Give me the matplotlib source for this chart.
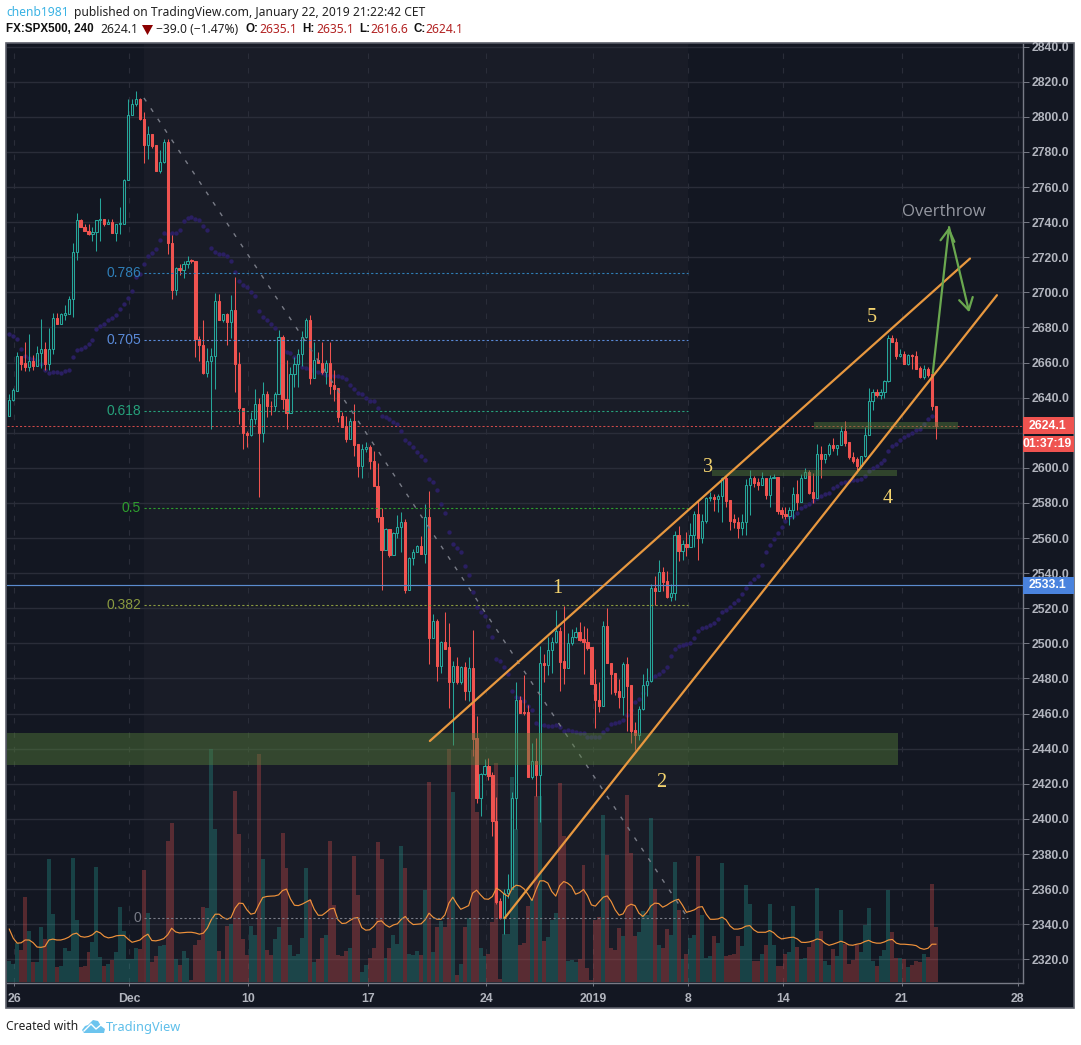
import matplotlib
matplotlib.use("Agg")
import matplotlib.pyplot as plt
from matplotlib.patches import Rectangle, Polygon
from matplotlib.transforms import blended_transform_factory

W, H = 1081, 1045

opens = [
2629.7,2638.5,2644,2664,2659.5,2657.5,2661,2658,2665.5,2668,
2659,2668,2685.5,2682,2687,2687.5,2696,2723,2741.5,2737,
2735,2733.3,2734.5,2741.5,2742,2739,2740,2734,2739,2739,
2764,2801,2807.5,2810,2799,2784,2790,2784,2769,2774.5,
2785.5,2728,2701.5,2714,2712.5,2716,2718.3,2718,2673.5,2670,
2654,2661,2663.5,2695,2684.5,2687.5,2683,2690,2659,2634,
2620,2618.5,2628,2636.5,2620,2642,2635.2,2635,2642,2674.5,
2639,2631.5,2653.5,2659,2665,2674.5,2684.5,2651,2661.5,2660,
2654.5,2660,2647,2645.5,2629.5,2624,2616.5,2626.5,2613.5,2601,
2611,2612,2604,2589.5,2572,2553,2565,2550.5,2563,2566.5,
2569,2530.5,2548.5,2552,2555.5,2551,2572,2503,2513,2487,
2501,2498,2478,2487,2478,2486.5,2473,2486,2446,2412,
2425.5,2430,2425,2399,2353,2343.5,2357.5,2360,2412,2468,
2461,2461,2424,2433,2425,2489,2487.5,2496,2501,2507,
2490,2486,2500.5,2503.5,2506.5,2502.5,2501,2498,2477,2468,
2464.5,2510,2489,2483,2473,2469.5,2488,2476.5,2450.5,2448,
2462.5,2476.5,2478.5,2531.5,2530,2540.5,2535.5,2526.5,2528.5,2562,
2552.5,2556.5,2555,2561.5,2574,2560,2570,2583,2583.5,2582.5,
2584,2594.5,2581.5,2571,2569,2566,2569,2590,2594.5,2592,
2590,2594.5,2584.5,2594,2595,2576,2574,2572.5,2576,2585,
2580.5,2594,2597.5,2586,2583,2608,2605,2608,2613,2611.5,
2613,2621,2615,2606,2605,2601,2606.5,2619,2638,2643.5,
2641.5,2643.5,2649.5,2674,2671.5,2664,2665,2659,2664.5,2664,
2657,2652,2656.5,2653.5,2635.1]
closes = [
2638.8,2644.5,2664,2659,2657.5,2661,2658,2665.5,2668,2659,
2668,2685.5,2682,2687.5,2688,2696,2723,2741.5,2737,2735,
2733,2734.5,2741.5,2742,2739,2740,2734,2739,2739.5,2764,
2801,2807.5,2810,2799,2784,2790,2783.5,2769,2774.5,2785.5,
2728,2701.5,2714,2712.5,2716,2718,2718,2673.5,2670,2654,
2661,2663.5,2695,2684.5,2687.5,2683,2690,2659,2634,2620,
2618.5,2628,2636.5,2620,2642,2635,2635,2642,2674.5,2639,
2631.5,2653.5,2659,2665,2674.5,2684.5,2651,2661.5,2659.5,2654.5,
2660,2646.5,2645,2629,2623.5,2616.5,2626.5,2613,2601,2611,
2612,2604,2589.5,2572,2553,2565,2550.5,2563,2566.5,2569,
2530.5,2548.5,2552,2555.5,2551,2572,2503,2513,2487,2501,
2497,2478,2487,2478,2486.5,2473,2486,2445.5,2412,2425.5,
2430,2424.5,2399,2352.5,2343.5,2357.5,2360,2412,2468,2460.5,
2460.5,2424,2433,2425,2489,2487.5,2496,2501,2507,2489.5,
2486,2500.5,2503.5,2506.5,2502,2501,2497.5,2477,2467.5,2464.5,
2510,2489,2482.5,2472.5,2469.5,2488,2476,2450,2448,2462.5,
2476.5,2478.5,2531.5,2530,2540.5,2535,2526.5,2528.5,2562,2552.5,
2556.5,2555,2561.5,2574,2560,2570,2583,2583.5,2582.5,2584,
2594.5,2581,2570,2569,2566,2569,2590,2594,2591.5,2590,
2594.5,2584.5,2594,2595,2575.5,2574,2572.5,2576,2585,2580.5,
2594,2597.5,2585.5,2583,2608,2605,2608,2613,2611.5,2613,
2621,2614,2606,2604,2601,2606.5,2619,2638,2643.5,2641.5,
2643.5,2649.5,2674,2671.5,2664,2665,2659,2664.5,2663.5,2656.5,
2652,2656.5,2653,2635,2624.1]
highs = [
2642.3,2645.6,2666,2664,2672,2676.5,2664.5,2669.5,2685,2672,
2680,2688,2688.5,2688.5,2693,2698,2728,2745.5,2742,2739,
2739,2737.5,2741.5,2754,2742,2742,2742,2739,2748.5,2764.5,
2810,2810,2814.5,2810.5,2803,2795,2790.5,2784,2781,2787.5,
2787.5,2732.5,2714.5,2716,2718,2721,2719,2718,2675,2684,
2668.5,2668.5,2699.5,2699,2687.5,2688.5,2698.5,2709,2666,2634,
2621,2632,2645,2640,2649,2644,2638,2643,2678.5,2676,
2661.5,2657.5,2663,2667.5,2678,2685.5,2687,2672,2666,2671.5,
2661.5,2671.5,2656,2645.5,2632,2629.5,2628.5,2636.5,2613.5,2613.5,
2615,2613,2609.5,2603,2577,2566,2565,2563.5,2573,2575,
2571,2549.5,2554,2556,2561,2579.5,2587,2517,2514,2501.5,
2518,2511.5,2490,2492,2487,2489.5,2492.5,2507.5,2458.5,2426,
2434,2434.5,2426.5,2412.5,2355,2360,2368.5,2415.5,2478,2470,
2482,2465,2443,2446,2498.5,2494,2503.5,2503.5,2519,2509.5,
2521.5,2506,2508,2509.5,2512,2510,2508.5,2498,2485.5,2478,
2513,2520,2489,2483,2480,2489.5,2492.5,2476.5,2455,2464.5,
2482.5,2486,2534,2538.5,2547.5,2543.5,2541,2534,2564,2567,
2559,2563.5,2568.5,2575.5,2581,2574,2583.5,2586.5,2585,2585,
2595,2596,2581.5,2574,2572,2574,2593.5,2599,2595.5,2594,
2597.5,2594.5,2596,2596.5,2595,2577.5,2578,2577.5,2589,2593,
2596.5,2600,2599,2597,2613.5,2612.5,2608,2614,2617,2613,
2624,2627,2615,2609,2606,2607,2623.5,2645.5,2645,2645,
2645,2650,2676,2676,2674,2668,2666.5,2665,2665,2666.5,
2658,2658.5,2657.5,2653.5,2635.1]
lows = [
2629.7,2638,2644,2655.6,2655,2655,2656,2658,2657,2656,
2656,2665,2682,2682,2684,2687.5,2686,2718.5,2737,2735,
2732.5,2729.5,2723.5,2729.5,2738,2739,2734,2729.5,2733,2739,
2764,2801,2806,2798.5,2774,2776,2782.5,2769,2768,2774,
2722,2696,2698.5,2710,2708,2714,2717,2663,2661,2653.5,
2652,2622,2645,2684.5,2683,2670,2674,2643,2625,2611,
2612,2618,2625,2583.5,2614.5,2629,2630,2632.5,2642,2633.5,
2622,2631.5,2646,2646,2658,2674,2648,2651,2659.5,2653.5,
2648,2642,2638,2626,2623.5,2614.5,2616.5,2607,2595,2594.5,
2609,2599.5,2589.5,2569,2530.5,2553,2549,2550.5,2560,2552,
2529,2530.5,2544.5,2552,2551,2546,2488.5,2503,2478.5,2483,
2497,2463,2442,2477,2477,2468,2467,2436,2409,2401.5,
2425,2422,2390.5,2351.5,2343,2334.5,2355,2360,2394,2460.5,
2459,2424,2423,2413,2398,2478,2482,2483,2500.5,2473,
2477,2486,2499,2503,2501.5,2482.5,2496.5,2477,2452,2461,
2464.5,2489,2471,2470.5,2463,2459,2450,2443,2439,2445,
2462,2470,2478,2522,2530,2530,2526,2524,2525,2547,
2547.5,2550,2555,2555,2547.5,2557,2568.5,2581,2575.5,2575,
2569,2578,2564.5,2566,2560,2562,2561.5,2573,2589,2587.5,
2590,2582,2577.5,2594,2574,2571.5,2571,2567.5,2571,2576,
2580.5,2594,2585,2580,2583,2594.5,2603,2607,2609.5,2607.5,
2613,2612.7,2605,2603,2597,2600,2606,2619,2633,2640.5,
2639.5,2640,2649,2671.5,2662,2663,2659,2658.5,2656.5,2656.5,
2651,2650.5,2652,2633,2616.6]
volumes = [
63,55,116,96,255,153,61,61,165,129,
369,204,45,48,103,94,372,186,45,48,
90,120,345,75,48,54,67,90,225,153,
69,69,102,99,336,207,60,78,108,111,
423,477,69,51,93,72,6,111,126,225,
222,699,459,93,69,168,174,573,444,129,
81,168,141,684,369,96,81,129,165,447,
342,111,78,84,132,342,246,60,69,132,
141,423,231,81,78,93,102,378,261,30,
51,72,102,420,369,72,102,141,114,408,
342,84,81,93,81,276,600,90,165,183,
165,699,570,21,54,165,192,696,511,103,
78,84,180,656,9,144,144,615,459,111,
117,228,250,558,558,123,136,186,207,596,
438,63,66,60,69,351,42,6,186,195,
501,381,102,96,162,138,561,387,138,150,
213,201,492,279,111,101,159,141,360,216,
68,84,131,141,378,201,72,78,138,117,
357,78,81,84,138,108,291,234,63,63,
84,111,234,111,48,48,84,90,228,105,
69,72,105,123,282,153,63,51,99,78,
216,114,54,66,111,90,171,222,63,48,
78,96,276,150,72,72,69,45,51,63,
60,84,75,294,165]
osc = [
2337.2,2332,2329.2,2329.4,2331,2331,2329.5,2327,2326.8,2327.3,
2331,2331.5,2331,2331,2331.6,2332.6,2334.3,2334.9,2333,2332.6,
2333,2334,2336,2335,2333,2332.2,2332.6,2333.4,2333.6,2333.6,
2331.5,2329.7,2330.3,2331,2333,2334.3,2330.7,2330.5,2331,2331.8,
2334,2337.7,2335.6,2335,2335.2,2335.4,2335.4,2335,2334.3,2334.9,
2337.7,2342.5,2345.7,2345.7,2343.8,2342.8,2343.8,2349.1,2352,2351.8,
2348.2,2345.7,2346.3,2351,2355.2,2355.8,2356,2356.1,2356.7,2359.2,
2360,2354.4,2350.8,2350.6,2351.5,2352.7,2353.9,2348.5,2345.1,2345.1,
2346.8,2348.7,2349.1,2342.5,2340.4,2340.6,2342.1,2343.4,2343.8,2338.1,
2336.6,2336.8,2338.7,2341.5,2341.9,2339.6,2338.3,2339.6,2340.2,2342.8,
2344.4,2341.5,2339.8,2340,2340.2,2342.5,2346.3,2344,2342.8,2342.8,
2345.3,2352,2355.4,2351.6,2348.5,2349.5,2350.6,2357.7,2359.4,2356.7,
2354.4,2354.2,2355.8,2360.5,2359.2,2357.1,2355.8,2360.5,2362.2,2361.8,
2360.1,2357,2353.5,2359.6,2364.7,2364.7,2363.4,2358.6,2356,2362,
2364.3,2363.4,2361.5,2357.1,2358,2359.8,2356.3,2351,2350.3,2352.9,
2355.4,2356.1,2352.9,2348.2,2345.1,2345.9,2350.1,2351.4,2350.6,2346.3,
2344.4,2346.8,2350.4,2352,2351.8,2349.7,2350.8,2352.3,2353.5,2354.2,
2350.8,2346.8,2347.4,2348.2,2349.7,2350,2345.7,2342.8,2342.8,2343,
2344,2342.5,2339,2337.2,2337.2,2337.7,2338.9,2339.2,2336.8,2335.4,
2335.4,2335.4,2336.4,2335.2,2333,2331.6,2332,2332.4,2332.6,2331.6,
2329.7,2329.6,2329.9,2330.6,2331.6,2331.1,2329.1,2328,2328.6,2329.4,
2330.3,2329.5,2328.2,2328,2328.6,2329,2330.1,2330.8,2329.7,2329.2,
2329.2,2329.9,2331,2331.3,2329.2,2328.6,2328.6,2328.4,2328.2,2327.8,
2326.3,2325.7,2326.3,2328.6,2328.6]
dots = [
2676.5,2675.2,2673.7,2668,2664,2662.7,2662,2661.3,2659.4,2656,
2654.3,2654.9,2654.9,2654.3,2655,2656,2663.4,2666.9,2668,2669.1,
2670.8,2673.1,2679.4,2681.1,2682.2,2684,2685.5,2687.4,2690.8,2693.6,
2697,2700.7,2708.6,2710.2,2716.4,2720.8,2722.7,2725,2729.9,2734.1,
2733.3,2733.7,2734.1,2735.8,2740.4,2742.6,2743,2741.9,2741.5,2738.1,
2735.8,2725.5,2723,2721.9,2721.6,2720.8,2718.1,2711.9,2706.6,2704.5,
2703.1,2700.5,2698.2,2689.4,2685.8,2684.3,2681.8,2679.5,2671.9,2667,
2666.2,2665.3,2663.4,2660.9,2657.7,2656.7,2656.4,2655.4,2654.5,2653.9,
2653.1,2652.7,2652.6,2652.6,2652,2650.5,2647,2644.8,2642.9,2641.9,
2639.8,2637.9,2637.9,2634,2629.4,2628.8,2627.7,2626.3,2625,2620.8,
2615.7,2614,2611.7,2608.9,2606.6,2604.3,2593.5,2591.8,2587.2,2579.4,
2574.1,2563.3,2556.5,2554.2,2551.9,2544,2538.8,2529.1,2520.5,2517.7,
2515.4,2509.7,2503.5,2491,2489.8,2486.4,2482.4,2472.7,2469.7,2468.7,
2467,2464.2,2461.9,2454.5,2453.3,2453.3,2452.8,2452.8,2453.3,2452.2,
2449.9,2450.5,2449.9,2449.3,2448.8,2448.8,2446.5,2446.5,2446.5,2446.5,
2449.3,2451,2453.9,2454.5,2455,2456.2,2459,2461.9,2466.4,2468.1,
2471.6,2477.3,2480.1,2481.3,2482.4,2484.1,2486.4,2492.6,2496.6,2498.5,
2498.9,2499.5,2500,2502.9,2506.9,2509,2509.5,2510.7,2511.6,2513.7,
2518,2519,2520.7,2522.8,2525,2528,2531.4,2534.2,2536.5,2538.2,
2544.5,2551.9,2555.9,2559.3,2562.7,2566.1,2569.6,2572.2,2572.4,2574.1,
2577,2578.1,2579.4,2581.1,2582.7,2584,2584.9,2585.5,2588.4,2589.5,
2591.2,2591.8,2592.3,2592.9,2592.9,2593.5,2595.2,2598,2599.8,2600.9,
2602.6,2604.3,2609.4,2612.3,2613.4,2615.7,2617.4,2618.6,2619.7,2621.4,
2622,2624.8,2627.7,2629.4]

price_ticks = list(range(2320, 2841, 20))
hidden_tick = 2620  # covered by the price badges in the reference
time_pos = [1.2, 30.35, 60.3, 90.5, 120.5, 147.5, 171.5, 195.5, 225.4, 254.6]
time_labels = ["26", "Dec", "10", "17", "24", "2019", "8", "14", "21", "28"]

fib_start, fib_end = 34.0, 171.4
fib_levels = [0.786, 0.705, 0.618, 0.5, 0.382, 0]
fib_prices = [2710.9, 2672.7, 2632.2, 2577.0, 2521.7, 2343.4]
fib_colors = ["#2f7fb8", "#5a8ad8", "#26a07a", "#2e9e2e", "#8a9a40", "#787b86"]
fib_names = ["0.786", "0.705", "0.618", "0.5", "0.382", "0"]
trend_x, trend_y = [34.0, 171.4], [2810.8, 2343.4]

channel_up_x, channel_up_y = [106.2, 242.6], [2444.4, 2719.3]
channel_lo_x, channel_lo_y = [125.05, 249.4], [2343.4, 2698.4]
arrow_x, arrow_y = [233.2, 237.3, 242.4], [2654.0, 2737.2, 2688.7]

last_price, marked_price = 2624.1, 2533.1
wave_x = [138.5, 164.5, 176.5, 221.8, 217.9]
wave_y = [2531.5, 2421.0, 2600.0, 2582.8, 2685.5]
wave_t = ["1", "2", "3", "4", "5"]

BG = "#131722"
BG2 = "#191c27"
GRID = "#2a2d39"
UP = "#26a69a"
DOWN = "#ef5350"

fig = plt.figure(figsize=(W / 100, H / 100), dpi=100, facecolor="white")
back = fig.add_axes([0, 0, 1, 1], zorder=0)
back.set_xlim(0, W); back.set_ylim(H, 0); back.axis("off")
back.add_patch(Rectangle((6, 43), 1068, 965, fc=BG, ec="#5d606b", lw=1.2))

X0, X1, Y0, Y1 = 7, 1023, 44, 983
ax = fig.add_axes([X0 / W, 1 - Y1 / H, (X1 - X0) / W, (Y1 - Y0) / H], zorder=1)
ax.patch.set_alpha(0)
px_per_bar = 3.96
ax.set_xlim((X0 - 9.3) / px_per_bar, (X1 - 9.3) / px_per_bar)
ax.set_ylim(2320 + (959.3 - Y1) / 1.755, 2320 + (959.3 - Y0) / 1.755)
for s in ("top", "left"):
    ax.spines[s].set_visible(False)
for s in ("right", "bottom"):
    ax.spines[s].set_color("#787b86"); ax.spines[s].set_linewidth(1.0)

ax.axvspan(fib_start, fib_end, color=BG2, lw=0, zorder=0)
ax.yaxis.tick_right()
ax.set_yticks(price_ticks)
ax.set_yticklabels(["" if v == hidden_tick else f"{v}.0" for v in price_ticks], fontsize=8.8,
                   color="#b2b5be", fontweight="bold", family="Liberation Sans")
ax.tick_params(axis="y", length=4.3, width=0.7, color="#787b86", pad=2)
ax.set_xticks(time_pos)
ax.set_xticklabels(time_labels, fontsize=8.8, color="#b2b5be", fontweight="bold",
                   family="Liberation Sans")
ax.tick_params(axis="x", length=2.5, width=0.7, color="#787b86", pad=5)
ax.grid(axis="y", color=GRID, lw=1.0, zorder=0.5)
ax.grid(axis="x", color=GRID, lw=0.8, ls=(0, (5, 8)), zorder=0.5)
ax.set_axisbelow(True)

# volume pane shares the same box, with its own scale
vol = ax.inset_axes([0, 0, 1, 1], zorder=1)
vol.patch.set_alpha(0)
vol.set_xlim(ax.get_xlim()); vol.set_ylim(-3, 2814); vol.axis("off")
xs = list(range(len(opens)))
vol.bar(xs, volumes, width=1.0, lw=0, antialiased=False,
        color=[UP if c >= o else DOWN for o, c in zip(opens, closes)], alpha=0.3)

# candles, dots etc. on a top price pane
top = ax.inset_axes([0, 0, 1, 1], zorder=2)
top.patch.set_alpha(0)
top.set_xlim(ax.get_xlim()); top.set_ylim(ax.get_ylim()); top.axis("off")
top.scatter(range(len(dots)), dots, s=10, color="#2a1f62", lw=0, zorder=2)
up = [i for i in xs if closes[i] >= opens[i]]
dn = [i for i in xs if closes[i] < opens[i]]
top.vlines(up, [lows[i] for i in up], [highs[i] for i in up], color=UP, lw=0.75, zorder=3)
top.vlines(dn, [lows[i] for i in dn], [highs[i] for i in dn], color=DOWN, lw=0.75, zorder=3)
top.bar(up, [closes[i] - opens[i] for i in up], bottom=[opens[i] for i in up], width=0.56,
        facecolor=BG2, edgecolor=UP, lw=0.75, zorder=4)
top.bar(dn, [closes[i] - opens[i] for i in dn], bottom=[opens[i] for i in dn], width=0.56,
        facecolor=DOWN, edgecolor=DOWN, lw=0.75, zorder=4)

top.plot(xs, osc, color="#f0923b", lw=0.85, zorder=5)
top.plot(trend_x, trend_y, color="#787b86", lw=1.0, ls=(0, (3, 6)), zorder=5)
for name, p, col in zip(fib_names, fib_prices, fib_colors):
    top.plot([fib_start, fib_end], [p, p], color=col, lw=0.8, ls=(0, (2, 2)), zorder=5)
    top.text(fib_start - 0.7, p, name, color=col, ha="right", va="center", fontsize=10,
             family="Liberation Sans", zorder=6)

top.axhline(last_price, color=DOWN, lw=0.75, ls=(0, (2, 2)), alpha=0.85, zorder=5)
top.axhline(marked_price, color="#5b8ccf", lw=0.85, zorder=5)

top.add_patch(Rectangle((-0.6, 2430.7), 225.0, 18.1, fc="#557d3a", alpha=0.45, lw=0, zorder=6))
top.add_patch(Rectangle((177.5, 2595.5), 46.7, 3.5, fc="#557d3a", alpha=0.45, lw=0, zorder=6))
top.add_patch(Rectangle((203.2, 2622.0), 36.3, 4.0, fc="#557d3a", alpha=0.45, lw=0, zorder=6))

top.plot(channel_up_x, channel_up_y, color="#e8983f", lw=1.6, zorder=7, solid_capstyle="round")
top.plot(channel_lo_x, channel_lo_y, color="#e8983f", lw=1.6, zorder=7, solid_capstyle="round")
head = "->,head_length=0.85,head_width=0.5"
top.annotate("", xy=(arrow_x[1], arrow_y[1]), xytext=(arrow_x[0], arrow_y[0]), zorder=8,
             arrowprops=dict(arrowstyle=head, color="#6aa84f", lw=1.6, shrinkA=0, shrinkB=0))
top.annotate("", xy=(arrow_x[2], arrow_y[2]), xytext=(arrow_x[1], arrow_y[1]), zorder=8,
             arrowprops=dict(arrowstyle=head, color="#6aa84f", lw=1.6, shrinkA=0, shrinkB=0))
for x, y, t in zip(wave_x, wave_y, wave_t):
    top.text(x, y, t, color="#f3d36e", fontsize=14.5, family="Liberation Serif",
             ha="center", va="center", zorder=9)
top.text(236.0, 2746.0, "Overthrow", color="#9598a1", fontsize=12.1, family="Open Sans",
         ha="center", va="center", zorder=9)

# right-hand price badges
tr = blended_transform_factory(ax.transAxes, ax.transData)
bw = (1074 - X1) / (X1 - X0)
unit = 1 / 1.755
for price, dy0, dy1, col, label in [
        (last_price, -8.5, 8.5, DOWN, "2624.1"),
        (last_price, 10.0, 26.5, DOWN, "01:37:19"),
        (marked_price, -8.5, 8.5, "#4a83de", "2533.1")]:
    ax.add_patch(Rectangle((1.0, price - dy1 * unit), bw, (dy1 - dy0) * unit, transform=tr, fc=col,
                           lw=0, clip_on=False, zorder=10))
    ax.text(1.0 + bw * 0.5 - 0.001, price - (dy0 + dy1) / 2 * unit, label, transform=tr, color="white",
            fontsize=8.8, fontweight="bold", family="Liberation Sans", ha="center", va="center", zorder=11)

# header and footer
front = fig.add_axes([0, 0, 1, 1], zorder=5)
front.set_xlim(0, W); front.set_ylim(H, 0); front.axis("off"); front.patch.set_alpha(0)
HF = "Noto Sans"
BF = "Liberation Sans"
front.text(6, 12.5, "chenb1981", color="#3bb3e4", fontsize=8.7, family=HF, va="center")
front.text(74, 12.5, "published on TradingView.com, January 22, 2019 21:22:42 CET", color="#222222",
           fontsize=8.7, family=HF, va="center")
y2 = 29.5
for x, t, col, fam, w in [(6, "FX:SPX500, 240", "#111111", BF, "bold"), (100, "2624.1", "#222222", HF, "normal"),
                     (156, "\u221239.0 (\u22121.47%)", "#222222", HF, "normal"), (245, "O:", "#111111", BF, "bold"),
                     (259, "2635.1", "#b22222", HF, "normal"), (302, "H:", "#111111", BF, "bold"),
                     (316, "2635.1", "#b22222", HF, "normal"), (359, "L:", "#111111", BF, "bold"),
                     (370, "2616.6", "#b22222", HF, "normal"), (413, "C:", "#111111", BF, "bold"),
                     (425, "2624.1", "#b22222", HF, "normal")]:
    front.text(x, y2, t, color=col, fontsize=8.7 if fam == HF else 8.4, family=fam, va="center", fontweight=w)
front.add_patch(Polygon([(142, 25), (153, 25), (147.5, 35)], fc="#8b0000", lw=0))
front.text(6, 1027, "Created with", color="#222222", fontsize=8.7, family=HF, va="center")
front.add_patch(Polygon([(82, 1030), (85, 1026), (88, 1025), (93, 1020), (98, 1021), (101, 1026), (105, 1029),
                         (104, 1033), (84, 1033)], fc="#6cc4ee", lw=0))
front.plot([84, 91, 96, 102], [1031, 1024, 1029, 1024], color="white", lw=1.0)
front.text(106, 1027, "TradingView", color="#5ebfea", fontsize=9.2, family=HF, va="center")

fig.savefig("out.png", dpi=100, facecolor="white")
